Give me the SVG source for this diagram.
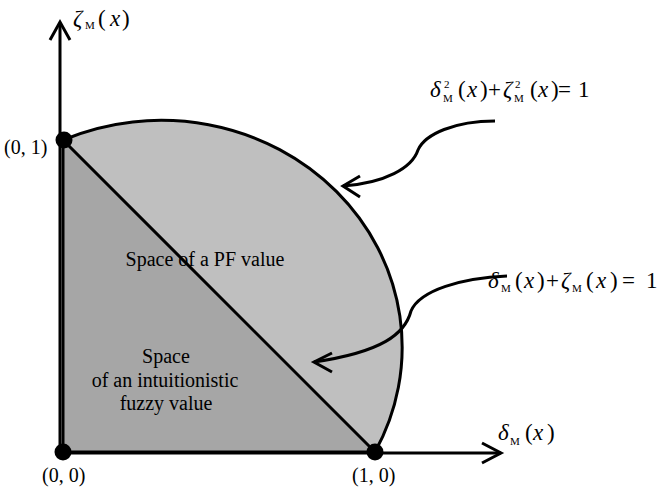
<svg xmlns="http://www.w3.org/2000/svg" width="659" height="492" viewBox="0 0 659 492">
<style>
.ln{fill:none;stroke:#000;stroke-width:3}
.dot{fill:#000}
</style>
<rect width="659" height="492" fill="#fff"/>
<g id="pf-region">
<path d="M63,140 A241,227 0 0 1 375,452 L63,452 Z" fill="#bfbfbf" stroke="none"/>
<path d="M63,140 A241,227 0 0 1 375,452" class="ln"/>
</g>
<g id="if-region">
<path d="M63,140 L375,452 L63,452 Z" fill="#a6a6a6" stroke="#000" stroke-width="3" stroke-linejoin="round"/>
</g>
<g id="connectors">
<line x1="60" y1="455" x2="60" y2="23" class="ln"/>
<polyline points="50,40 60,22 70,40" class="ln"/>
<line x1="58" y1="453" x2="501" y2="453" class="ln"/>
<polyline points="482,443 501,453 482,463" class="ln"/>
<path d="M495,121 C455,121 425,134 418,150 C412,168 385,183 343,186" class="ln" stroke-width="2.5"/>
<polyline points="360,176 343,186 360,197" class="ln" stroke-width="2.5"/>
<path d="M507,276 C462,278 420,290 411,311 C405,334 382,352 314,362" class="ln" stroke-width="2.5"/>
<polyline points="332,353 314,362 332,372" class="ln" stroke-width="2.5"/>
</g>
<g id="p01"><circle cx="64" cy="140" r="8.5" class="dot"/><text x="4" y="154" style="font-family:Liberation Serif;font-size:20px">(0, 1)</text></g>
<g id="p00"><circle cx="63" cy="452" r="8.5" class="dot"/><text x="42" y="482" style="font-family:Liberation Serif;font-size:20px">(0, 0)</text></g>
<g id="p10"><circle cx="375" cy="452" r="8.5" class="dot"/><text x="352" y="482" style="font-family:Liberation Serif;font-size:20px">(1, 0)</text></g>
<g id="label-pf"><text x="205" y="266" text-anchor="middle" style="font-family:Liberation Serif;font-size:20px">Space of a PF value</text></g>
<g id="label-if">
<text x="166" y="363" text-anchor="middle" style="font-family:Liberation Serif;font-size:20px">Space</text>
<text x="165" y="387" text-anchor="middle" style="font-family:Liberation Serif;font-size:20px">of an intuitionistic</text>
<text x="166" y="410" text-anchor="middle" style="font-family:Liberation Serif;font-size:20px">fuzzy value</text>
</g>
<g id="axis-y-label"><text style="font-family:Liberation Serif;font-size:23px"><tspan font-style="italic" x="73" y="26">&#950;</tspan><tspan font-size="11" x="85" y="29">M</tspan><tspan x="98" y="26">(</tspan><tspan font-style="italic" x="110" y="26">x</tspan><tspan x="122" y="26">)</tspan></text></g>
<g id="axis-x-label"><text style="font-family:Liberation Serif;font-size:23px"><tspan font-style="italic" x="498" y="440">&#948;</tspan><tspan font-size="11" x="510" y="445">M</tspan><tspan x="525" y="440">(</tspan><tspan font-style="italic" x="533" y="440">x</tspan><tspan x="547" y="440">)</tspan></text></g>
<g id="eq-circle"><text style="font-family:Liberation Serif;font-size:23px"><tspan font-style="italic" x="430" y="97">&#948;</tspan><tspan font-size="11" x="444" y="88">2</tspan><tspan font-size="11" x="443" y="102">M</tspan><tspan x="458" y="97">(</tspan><tspan font-style="italic" x="467" y="97">x</tspan><tspan x="480" y="97">)</tspan><tspan x="488" y="97">+</tspan><tspan font-style="italic" x="503" y="97">&#950;</tspan><tspan font-size="11" x="515" y="88">2</tspan><tspan font-size="11" x="514" y="102">M</tspan><tspan x="530" y="97">(</tspan><tspan font-style="italic" x="538" y="97">x</tspan><tspan x="551" y="97">)</tspan><tspan x="558" y="97">=</tspan><tspan x="578" y="97">1</tspan></text></g>
<g id="eq-line"><text style="font-family:Liberation Serif;font-size:23px"><tspan font-style="italic" x="488" y="288">&#948;</tspan><tspan font-size="11" x="501" y="292">M</tspan><tspan x="515" y="288">(</tspan><tspan font-style="italic" x="524" y="288">x</tspan><tspan x="537" y="288">)</tspan><tspan x="546" y="288">+</tspan><tspan font-style="italic" x="561" y="288">&#950;</tspan><tspan font-size="11" x="572" y="292">M</tspan><tspan x="586" y="288">(</tspan><tspan font-style="italic" x="596" y="288">x</tspan><tspan x="610" y="288">)</tspan><tspan x="622" y="288">=</tspan><tspan x="646" y="288">1</tspan></text></g>
</svg>
